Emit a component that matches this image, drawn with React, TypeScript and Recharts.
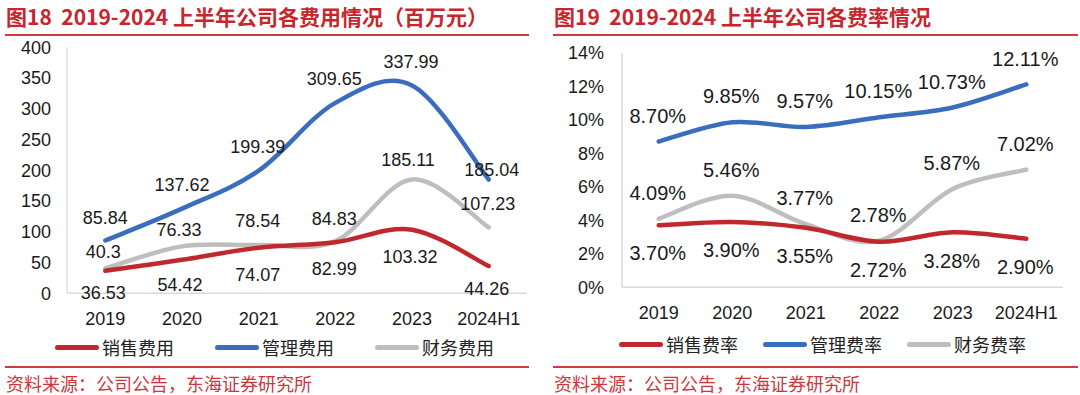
import React from "react";
import { LineChart, Line, XAxis, YAxis, Legend, LabelList } from "recharts";

// ---------- data ----------
const years = ["2019", "2020", "2021", "2022", "2023", "2024H1"];

const salesExpense = [36.53, 54.42, 74.07, 82.99, 103.32, 44.26];
const adminExpense = [85.84, 137.62, 199.39, 309.65, 337.99, 185.04];
const financeExpense = [40.3, 76.33, 78.54, 84.83, 185.11, 107.23];

const salesRate = [3.7, 3.9, 3.55, 2.72, 3.28, 2.9];
const adminRate = [8.7, 9.85, 9.57, 10.15, 10.73, 12.11];
const financeRate = [4.09, 5.46, 3.77, 2.78, 5.87, 7.02];

const leftTicks = [0, 50, 100, 150, 200, 250, 300, 350, 400];
const rightTicks = [0, 2, 4, 6, 8, 10, 12, 14];

const expenseData = years.map((y, i) => ({
  year: y,
  sales: salesExpense[i],
  admin: adminExpense[i],
  finance: financeExpense[i],
}));
const rateData = years.map((y, i) => ({
  year: y,
  sales: salesRate[i],
  admin: adminRate[i],
  finance: financeRate[i],
}));

// ---------- styles ----------
const RED = "#C0282E";
const BLUE = "#3A6DBE";
const GRAY = "#BEBEBE";
const TITLE_RED = "#C9252C";
const FONT = "'Liberation Sans', Arial, 'Noto Sans CJK SC', sans-serif";
const CJK = "'Noto Sans CJK SC', 'Liberation Sans', sans-serif";

// label offsets (layout only)
const leftDy = {
  admin: [-23, -24, -24, -24, -24, -10],
  finance: [-17, -17, -24, -23, -20, -24],
  sales: [22, 25, 27, 26, 27, 22],
};
const leftDx = {
  admin: [0, 0, -1, -1, -1, 3],
  finance: [-2, -3, -1, -1, -4, -1],
  sales: [-2, -2, -1, -1, -2, -2],
};

// Excel-like smoothed curve (Catmull-Rom style bezier)
function excelCurve(context: any) {
  let pts: [number, number][] = [];
  return {
    areaStart() {},
    areaEnd() {},
    lineStart() {
      pts = [];
    },
    point(x: number, y: number) {
      pts.push([+x, +y]);
    },
    lineEnd() {
      const n = pts.length;
      if (!n) return;
      context.moveTo(pts[0][0], pts[0][1]);
      for (let i = 0; i < n - 1; i++) {
        const p0 = pts[Math.max(i - 1, 0)];
        const p1 = pts[i];
        const p2 = pts[i + 1];
        const p3 = pts[Math.min(i + 2, n - 1)];
        const c1x = p1[0] + (p2[0] - p0[0]) / 6;
        const c1y = p1[1] + (p2[1] - p0[1]) / 6;
        const c2x = p2[0] - (p3[0] - p1[0]) / 6;
        const c2y = p2[1] - (p3[1] - p1[1]) / 6;
        context.bezierCurveTo(c1x, c1y, c2x, c2y, p2[0], p2[1]);
      }
    },
  };
}

const makeLabel =
  (dys: number[] | number, dxs: number[] | number, fontSize: number, fmt: (v: number) => string) =>
  (props: any) => {
    const idx = props.index ?? 0;
    const x = props.x ?? props.viewBox?.x;
    const y = props.y ?? props.viewBox?.y;
    const dy = Array.isArray(dys) ? dys[idx] : dys;
    const dx = Array.isArray(dxs) ? dxs[idx] : dxs;
    return (
      <text
        key={`lbl-${idx}`}
        x={x + dx}
        y={y + dy}
        dy="0.36em"
        textAnchor="middle"
        fontSize={fontSize}
        fontFamily={FONT}
        fill="#1a1a1a"
      >
        {fmt(props.value)}
      </text>
    );
  };

const makeLegend = (items: { name: string; color: string; x: number }[]) => () =>
  (
    <div style={{ position: "relative", width: 540, height: 28 }}>
      {items.map((it) => (
        <div
          key={it.name}
          style={{
            position: "absolute",
            left: it.x,
            top: 0,
            height: 28,
            display: "flex",
            alignItems: "center",
          }}
        >
          <div
            style={{
              width: 44,
              height: 5,
              borderRadius: 3,
              background: it.color,
              marginRight: 3,
            }}
          />
          <span style={{ fontFamily: CJK, fontSize: 18, color: "#222", lineHeight: "28px" }}>
            {it.name}
          </span>
        </div>
      ))}
    </div>
  );

const Title = ({ left, text, ruleLeft, ruleRight }: any) => (
  <>
    <div
      style={{
        position: "absolute",
        left,
        top: 3,
        fontFamily: CJK,
        fontWeight: 700,
        fontSize: 21,
        color: TITLE_RED,
        lineHeight: "27px",
        whiteSpace: "pre",
      }}
    >
      {text}
    </div>
    <div
      style={{
        position: "absolute",
        left: ruleLeft,
        width: ruleRight - ruleLeft,
        top: 34,
        height: 2,
        background: "#D33A40",
      }}
    />
  </>
);

const Source = ({ left, ruleLeft, ruleRight }: any) => (
  <>
    <div
      style={{
        position: "absolute",
        left: ruleLeft,
        width: ruleRight - ruleLeft,
        top: 366,
        height: 2,
        background: "#D33A40",
      }}
    />
    <div
      style={{
        position: "absolute",
        left,
        top: 372,
        fontFamily: CJK,
        fontSize: 18,
        color: "#D0353B",
        lineHeight: "22px",
        height: 22,
        whiteSpace: "pre",
      }}
    >
      资料来源：公司公告，东海证券研究所
    </div>
  </>
);

export default function App() {
  const tickStyle = { fontSize: 18, fontFamily: FONT, fill: "#1a1a1a" };
  return (
    <div
      style={{
        position: "absolute",
        left: 0,
        top: 0,
        width: 1080,
        height: 395,
        background: "#fff",
        overflow: "hidden",
      }}
    >
      <Title left={6} ruleLeft={5} ruleRight={529} text={"图18  2019-2024 上半年公司各费用情况（百万元）"} />
      <Title left={554} ruleLeft={553} ruleRight={1078} text={"图19  2019-2024 上半年公司各费率情况"} />

      <div style={{ position: "absolute", left: 0, top: 0 }}>
        <LineChart
          width={540}
          height={395}
          data={expenseData}
          margin={{ top: 47.3, right: 13, left: 7, bottom: 71.7 }}
        >
          <XAxis
            dataKey="year"
            height={30}
            padding={{ left: 38.3, right: 38.3 }}
            tickLine={false}
            tickSize={6}
            tickMargin={13}
            axisLine={{ stroke: "#D9D9D9", strokeWidth: 1.5 }}
            tick={tickStyle}
            interval={0}
          />
          <YAxis
            width={60}
            domain={[0, 400]}
            ticks={leftTicks}
            tickLine={false}
            tickSize={6}
            tickMargin={10}
            axisLine={{ stroke: "#E6E2D6", strokeWidth: 1.5 }}
            tick={tickStyle}
            interval={0}
          />
          <Legend
            layout="horizontal"
            verticalAlign="middle"
            align="center"
            wrapperStyle={{ left: 0, top: 333, width: 540, height: 28 }}
            content={makeLegend([
              { name: "销售费用", color: RED, x: 55 },
              { name: "管理费用", color: BLUE, x: 215 },
              { name: "财务费用", color: GRAY, x: 375 },
            ])}
          />
          <Line
            dataKey="finance"
            name="财务费用"
            stroke={GRAY}
            strokeWidth={4.5}
            strokeLinecap="round"
            type={excelCurve as any}
            dot={false}
            activeDot={false}
            isAnimationActive={false}
          >
            <LabelList dataKey="finance" content={makeLabel(leftDy.finance, leftDx.finance, 18, (v) => String(v))} />
          </Line>
          <Line
            dataKey="sales"
            name="销售费用"
            stroke={RED}
            strokeWidth={4.5}
            strokeLinecap="round"
            type={excelCurve as any}
            dot={false}
            activeDot={false}
            isAnimationActive={false}
          >
            <LabelList dataKey="sales" content={makeLabel(leftDy.sales, leftDx.sales, 18, (v) => String(v))} />
          </Line>
          <Line
            dataKey="admin"
            name="管理费用"
            stroke={BLUE}
            strokeWidth={4.5}
            strokeLinecap="round"
            type={excelCurve as any}
            dot={false}
            activeDot={false}
            isAnimationActive={false}
          >
            <LabelList dataKey="admin" content={makeLabel(leftDy.admin, leftDx.admin, 18, (v) => String(v))} />
          </Line>
        </LineChart>
      </div>

      <div style={{ position: "absolute", left: 540, top: 0 }}>
        <LineChart
          width={540}
          height={395}
          data={rateData}
          margin={{ top: 52.7, right: 17, left: 22, bottom: 77.7 }}
        >
          <XAxis
            dataKey="year"
            height={30}
            padding={{ left: 36.75, right: 36.75 }}
            tickLine={false}
            tickSize={6}
            tickMargin={13}
            axisLine={{ stroke: "#D9D9D9", strokeWidth: 1.5 }}
            tick={tickStyle}
            interval={0}
          />
          <YAxis
            width={60}
            domain={[0, 14]}
            ticks={rightTicks}
            tickFormatter={(v: number) => `${v}%`}
            tickLine={false}
            tickSize={6}
            tickMargin={12}
            axisLine={{ stroke: "#D9D9D9", strokeWidth: 1.5 }}
            tick={tickStyle}
            interval={0}
          />
          <Legend
            layout="horizontal"
            verticalAlign="middle"
            align="center"
            wrapperStyle={{ left: 0, top: 330, width: 540, height: 28 }}
            content={makeLegend([
              { name: "销售费率", color: RED, x: 79 },
              { name: "管理费率", color: BLUE, x: 223 },
              { name: "财务费率", color: GRAY, x: 367 },
            ])}
          />
          <Line
            dataKey="finance"
            name="财务费率"
            stroke={GRAY}
            strokeWidth={4.5}
            strokeLinecap="round"
            type={excelCurve as any}
            dot={false}
            activeDot={false}
            isAnimationActive={false}
          >
            <LabelList dataKey="finance" content={makeLabel(-26, -1, 20, (v) => `${v.toFixed(2)}%`)} />
          </Line>
          <Line
            dataKey="sales"
            name="销售费率"
            stroke={RED}
            strokeWidth={4.5}
            strokeLinecap="round"
            type={excelCurve as any}
            dot={false}
            activeDot={false}
            isAnimationActive={false}
          >
            <LabelList dataKey="sales" content={makeLabel(28, -1, 20, (v) => `${v.toFixed(2)}%`)} />
          </Line>
          <Line
            dataKey="admin"
            name="管理费率"
            stroke={BLUE}
            strokeWidth={4.5}
            strokeLinecap="round"
            type={excelCurve as any}
            dot={false}
            activeDot={false}
            isAnimationActive={false}
          >
            <LabelList dataKey="admin" content={makeLabel(-26, -1, 20, (v) => `${v.toFixed(2)}%`)} />
          </Line>
        </LineChart>
      </div>

      <Source left={6} ruleLeft={5} ruleRight={529} />
      <Source left={554} ruleLeft={553} ruleRight={1078} />
    </div>
  );
}
